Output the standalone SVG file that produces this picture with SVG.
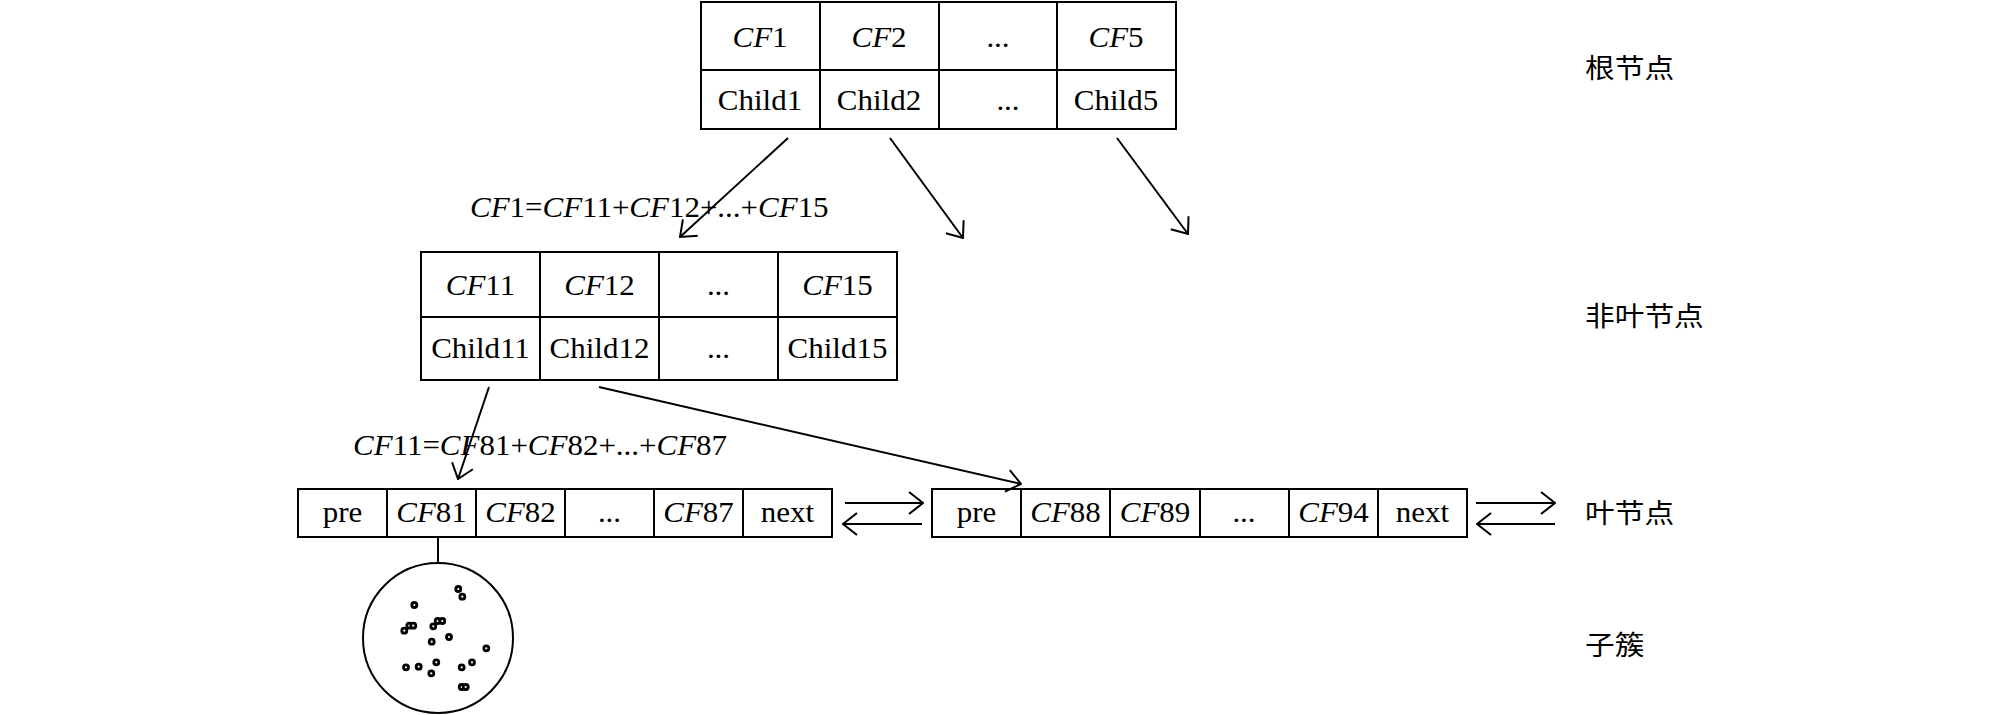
<svg xmlns="http://www.w3.org/2000/svg" width="2008" height="715" viewBox="0 0 2008 715">
<style>
.cell{fill:none;stroke:#000;stroke-width:2}
.ln{fill:none;stroke:#000;stroke-width:2}
.t{font-family:"Liberation Serif","Times New Roman",serif;font-size:29.5px;fill:#000;text-anchor:middle}
.f{font-family:"Liberation Serif","Times New Roman",serif;font-size:29.5px;fill:#000;text-anchor:start}
.i{font-style:italic}
.zh{font-family:"Noto Sans CJK SC",sans-serif;font-size:27px;fill:#000}
.dot{fill:#fff;stroke:#000;stroke-width:2.8}
</style>
<defs>
<marker id="arr" viewBox="0 0 16 24" refX="15" refY="12" markerWidth="16" markerHeight="24" orient="auto" markerUnits="userSpaceOnUse">
<path d="M1,1 L15,12 L1,23" fill="none" stroke="#000" stroke-width="2"/>
</marker>
</defs>
<rect width="2008" height="715" fill="#fff"/>

<g id="root">
<rect class="cell" x="701" y="2" width="475" height="127"/>
<line class="cell" x1="701" y1="70" x2="1176" y2="70"/>
<line class="cell" x1="820" y1="2" x2="820" y2="129"/>
<line class="cell" x1="939" y1="2" x2="939" y2="129"/>
<line class="cell" x1="1057" y1="2" x2="1057" y2="129"/>
<text class="t" transform="translate(760,47) scale(1.05,1)"><tspan class="i">CF</tspan>1</text>
<text class="t" transform="translate(879,47) scale(1.05,1)"><tspan class="i">CF</tspan>2</text>
<text class="t" transform="translate(998,47) scale(1.05,1)">...</text>
<text class="t" transform="translate(1116,47) scale(1.05,1)"><tspan class="i">CF</tspan>5</text>
<text class="t" transform="translate(760,110) scale(1.05,1)">Child1</text>
<text class="t" transform="translate(879,110) scale(1.05,1)">Child2</text>
<text class="t" transform="translate(1008,110) scale(1.05,1)">...</text>
<text class="t" transform="translate(1116,110) scale(1.05,1)">Child5</text>
</g>

<g id="nonleaf">
<rect class="cell" x="421" y="252" width="476" height="128"/>
<line class="cell" x1="421" y1="317" x2="897" y2="317"/>
<line class="cell" x1="540" y1="252" x2="540" y2="380"/>
<line class="cell" x1="659" y1="252" x2="659" y2="380"/>
<line class="cell" x1="778" y1="252" x2="778" y2="380"/>
<text class="t" transform="translate(480.5,295) scale(1.05,1)"><tspan class="i">CF</tspan>11</text>
<text class="t" transform="translate(599.5,295) scale(1.05,1)"><tspan class="i">CF</tspan>12</text>
<text class="t" transform="translate(718.5,295) scale(1.05,1)">...</text>
<text class="t" transform="translate(837.5,295) scale(1.05,1)"><tspan class="i">CF</tspan>15</text>
<text class="t" transform="translate(480.5,358) scale(1.05,1)">Child11</text>
<text class="t" transform="translate(599.5,358) scale(1.05,1)">Child12</text>
<text class="t" transform="translate(718.5,358) scale(1.05,1)">...</text>
<text class="t" transform="translate(837.5,358) scale(1.05,1)">Child15</text>
</g>

<g id="leaf1">
<rect class="cell" x="298" y="489" width="534" height="48"/>
<line class="cell" x1="387" y1="489" x2="387" y2="537"/>
<line class="cell" x1="476" y1="489" x2="476" y2="537"/>
<line class="cell" x1="565" y1="489" x2="565" y2="537"/>
<line class="cell" x1="654" y1="489" x2="654" y2="537"/>
<line class="cell" x1="743" y1="489" x2="743" y2="537"/>
<text class="t" transform="translate(342.5,522) scale(1.05,1)">pre</text>
<text class="t" transform="translate(431.5,522) scale(1.05,1)"><tspan class="i">CF</tspan>81</text>
<text class="t" transform="translate(520.5,522) scale(1.05,1)"><tspan class="i">CF</tspan>82</text>
<text class="t" transform="translate(609.5,522) scale(1.05,1)">...</text>
<text class="t" transform="translate(698.5,522) scale(1.05,1)"><tspan class="i">CF</tspan>87</text>
<text class="t" transform="translate(787.5,522) scale(1.05,1)">next</text>
</g>

<g id="leaf2">
<rect class="cell" x="932" y="489" width="535" height="48"/>
<line class="cell" x1="1021" y1="489" x2="1021" y2="537"/>
<line class="cell" x1="1110" y1="489" x2="1110" y2="537"/>
<line class="cell" x1="1200" y1="489" x2="1200" y2="537"/>
<line class="cell" x1="1289" y1="489" x2="1289" y2="537"/>
<line class="cell" x1="1378" y1="489" x2="1378" y2="537"/>
<text class="t" transform="translate(976.5,522) scale(1.05,1)">pre</text>
<text class="t" transform="translate(1065.5,522) scale(1.05,1)"><tspan class="i">CF</tspan>88</text>
<text class="t" transform="translate(1155,522) scale(1.05,1)"><tspan class="i">CF</tspan>89</text>
<text class="t" transform="translate(1244,522) scale(1.05,1)">...</text>
<text class="t" transform="translate(1333.5,522) scale(1.05,1)"><tspan class="i">CF</tspan>94</text>
<text class="t" transform="translate(1422.5,522) scale(1.05,1)">next</text>
</g>

<g id="cluster">
<circle cx="438" cy="638" r="75" fill="none" stroke="#000" stroke-width="2"/>
<circle class="dot" cx="458.3" cy="589" r="2.5"/>
<circle class="dot" cx="462.3" cy="596.7" r="2.5"/>
<circle class="dot" cx="414.3" cy="605" r="2.5"/>
<circle class="dot" cx="437.7" cy="621" r="2.5"/>
<circle class="dot" cx="442.3" cy="621" r="2.5"/>
<circle class="dot" cx="409.3" cy="625.7" r="2.5"/>
<circle class="dot" cx="413.3" cy="625.7" r="2.5"/>
<circle class="dot" cx="433.3" cy="626.3" r="2.5"/>
<circle class="dot" cx="404.3" cy="630.7" r="2.5"/>
<circle class="dot" cx="449" cy="637" r="2.5"/>
<circle class="dot" cx="431.7" cy="641.7" r="2.5"/>
<circle class="dot" cx="486.3" cy="648.3" r="2.5"/>
<circle class="dot" cx="472" cy="662.3" r="2.5"/>
<circle class="dot" cx="436.3" cy="662.3" r="2.5"/>
<circle class="dot" cx="406" cy="667.3" r="2.5"/>
<circle class="dot" cx="418.7" cy="666.7" r="2.5"/>
<circle class="dot" cx="461.7" cy="667.3" r="2.5"/>
<circle class="dot" cx="431.3" cy="673.3" r="2.5"/>
<circle class="dot" cx="461.7" cy="687" r="2.5"/>
<circle class="dot" cx="465.7" cy="687" r="2.5"/>
</g>

<g id="labels">
<text class="zh" transform="translate(1585,78) scale(1.1,1)">根节点</text>
<text class="zh" transform="translate(1585,326) scale(1.1,1)">非叶节点</text>
<text class="zh" transform="translate(1585,523) scale(1.1,1)">叶节点</text>
<text class="zh" transform="translate(1585,655) scale(1.1,1)">子簇</text>
<text class="f" transform="translate(470,217) scale(1.05,1)"><tspan class="i">CF</tspan>1=<tspan class="i">CF</tspan>11+<tspan class="i">CF</tspan>12+...+<tspan class="i">CF</tspan>15</text>
<text class="f" transform="translate(353,455) scale(1.05,1)"><tspan class="i">CF</tspan>11=<tspan class="i">CF</tspan>81+<tspan class="i">CF</tspan>82+...+<tspan class="i">CF</tspan>87</text>
</g>

<g id="connectors">
<line class="ln" x1="788" y1="138" x2="680" y2="237" marker-end="url(#arr)"/>
<line class="ln" x1="890" y1="138" x2="963" y2="238" marker-end="url(#arr)"/>
<line class="ln" x1="1117" y1="138" x2="1188" y2="234" marker-end="url(#arr)"/>
<line class="ln" x1="489" y1="387" x2="458" y2="479" marker-end="url(#arr)"/>
<line class="ln" x1="599" y1="387" x2="1021" y2="484" marker-end="url(#arr)"/>
<line class="ln" x1="438" y1="537" x2="438" y2="563"/>
<line class="ln" x1="845" y1="503" x2="923" y2="503" marker-end="url(#arr)"/>
<line class="ln" x1="922" y1="524" x2="843" y2="524" marker-end="url(#arr)"/>
<line class="ln" x1="1476" y1="503" x2="1555" y2="503" marker-end="url(#arr)"/>
<line class="ln" x1="1555" y1="524" x2="1477" y2="524" marker-end="url(#arr)"/>
</g>
</svg>
